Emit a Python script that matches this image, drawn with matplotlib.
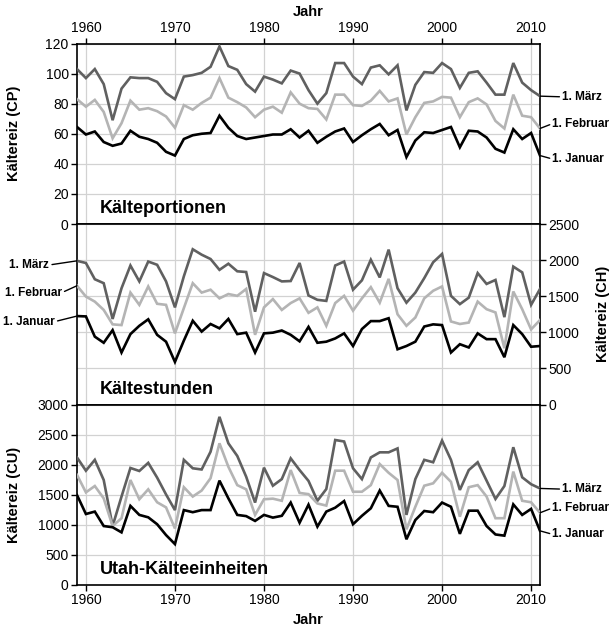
import matplotlib
matplotlib.use('Agg')
import matplotlib.pyplot as plt

plt.rcParams['font.family'] = ['Liberation Sans', 'DejaVu Sans']

years = list(range(1959, 2012))

# Kaelteportionen (CP)
cp_maerz = [103, 97, 103, 93, 69, 90, 97.5, 97, 97, 94.5,
            87, 83, 98, 99, 100.5, 104.5, 118, 105, 102.5, 93,
            88, 98, 96, 93.5, 102, 100, 89, 80, 87, 107,
            107, 98, 93, 104, 105.5, 99.5, 105.5, 75.5, 92.5, 101,
            100.5, 107, 103, 90.5, 100.5, 101.5, 94, 86, 86, 107,
            94, 89, 85]
cp_feb = [83, 78, 82.5, 74.5, 57, 67, 82, 76, 77, 75,
          71.5, 64, 79, 76, 80.5, 84, 97, 84, 81, 77.5,
          71, 76, 78, 74, 87.5, 80, 77, 76.5, 69.5, 86,
          86, 79, 78.5, 82, 88.5, 81.5, 83.5, 59.5, 71, 80.5,
          81.5, 84.5, 84, 71, 81, 83.5, 79.5, 68.5, 63.5, 86,
          72, 71, 63.5]
cp_jan = [64.5, 59.5, 61.5, 54.5, 52, 53.5, 62, 58, 56.5, 54,
          48, 45.5, 56.5, 59, 60, 60.5, 72, 64, 58.5, 56.5,
          57.5, 58.5, 59.5, 59.5, 63, 57.5, 62, 54, 58, 61.5,
          63.5, 54.5, 59, 63, 66.5, 59, 62.5, 44.5, 55.5, 61,
          60.5, 62.5, 64.5, 51, 62, 61.5, 57.5, 50, 47.5, 63,
          56.5, 60.5, 45.5]

# Kaeltestunden (CH)
ch_maerz = [1990, 1960, 1735, 1680, 1185, 1610, 1925, 1705, 1980, 1935,
            1705, 1345, 1775, 2150, 2075, 2015, 1865, 1950, 1845, 1835,
            1285, 1820, 1765, 1705, 1710, 1960, 1510, 1450, 1435, 1925,
            1980, 1590, 1720, 2005, 1760, 2145, 1610, 1410, 1550, 1750,
            1970, 2085, 1505, 1390, 1480, 1820, 1670, 1725, 1210, 1910,
            1830, 1380, 1600]
ch_feb = [1645, 1495, 1425, 1310, 1110, 1100, 1550, 1380, 1635, 1395,
          1380, 985, 1335, 1680, 1550, 1590, 1470, 1530, 1505, 1600,
          965, 1345, 1460, 1310, 1405, 1470, 1270, 1345, 1090, 1405,
          1505, 1300, 1470, 1625, 1410, 1740, 1250, 1090, 1205, 1470,
          1575, 1635, 1150, 1115, 1135, 1425, 1320, 1275, 780, 1565,
          1320, 1040, 1170]
ch_jan = [1225, 1220, 940, 855, 1030, 720, 975, 1090, 1180, 965,
          870, 590, 885, 1160, 1010, 1115, 1055, 1185, 975, 995,
          720, 985, 995, 1025, 965, 875, 1075, 855, 870, 915,
          985, 810, 1045, 1155, 1155, 1195, 765, 810, 870, 1080,
          1110, 1100, 720, 835, 790, 985, 905, 905, 655, 1100,
          975, 800, 810]

# Utah-Kaelteeinheiten (CU)
cu_maerz = [2120, 1900, 2080, 1745, 980, 1470, 1945, 1895, 2030, 1785,
            1505, 1245, 2080, 1940, 1920, 2215, 2795, 2355, 2145, 1800,
            1370, 1950, 1650, 1760, 2105, 1910, 1730, 1400, 1595, 2410,
            2385, 1940, 1760, 2120, 2205, 2205, 2270, 1165, 1760, 2080,
            2040, 2400, 2080, 1580, 1910, 2040, 1735, 1430, 1645, 2290,
            1790, 1675, 1605]
cu_feb = [1830, 1540, 1645, 1440, 980, 1110, 1745, 1425, 1590, 1375,
          1290, 940, 1625, 1470, 1570, 1775, 2355, 1965, 1660, 1590,
          1165, 1425, 1435, 1400, 1910, 1530, 1510, 1355, 1320, 1900,
          1900, 1550, 1550, 1660, 2010, 1865, 1745, 925, 1300, 1650,
          1690, 1865, 1715, 1135, 1625, 1660, 1470, 1110, 1110, 1885,
          1400, 1375, 1200]
cu_jan = [1495, 1180, 1220, 980, 960, 875, 1315, 1165, 1125, 1010,
          830, 680, 1245, 1210, 1245, 1245, 1735, 1440, 1165, 1145,
          1065, 1165, 1120, 1150, 1370, 1035, 1335, 970, 1220, 1285,
          1395, 1010, 1150, 1275, 1570, 1315, 1300, 760, 1080, 1230,
          1210, 1370, 1300, 850, 1235, 1235, 980, 840, 820, 1340,
          1165, 1265, 900]

labels = ['1. März', '1. Februar', '1. Januar']
colors = ['#606060', '#b4b4b4', '#000000']
xticks = [1960, 1970, 1980, 1990, 2000, 2010]

fig = plt.figure(figsize=(6.09, 6.37), dpi=100)
L, W, H, B0 = 77 / 609, 463 / 609, 180.5 / 637, 52 / 637
ax_top = fig.add_axes([L, B0 + 2 * H, W, H])
ax_mid = fig.add_axes([L, B0 + H, W, H])
ax_bot = fig.add_axes([L, B0, W, H])

panels = [
    (ax_top, [cp_maerz, cp_feb, cp_jan], 120, 20, 'Kälteportionen', 'Kältereiz (CP)'),
    (ax_mid, [ch_maerz, ch_feb, ch_jan], 2500, 500, 'Kältestunden', 'Kältereiz (CH)'),
    (ax_bot, [cu_maerz, cu_feb, cu_jan], 3000, 500, 'Utah-Kälteeinheiten', 'Kältereiz (CU)'),
]

for ax, series, ymax, step, title, ylab in panels:
    for vals, c in zip(series, colors):
        ax.plot(years, vals, color=c, lw=1.9, solid_joinstyle='miter', zorder=3)
    ax.set_xlim(1959, 2011)
    ax.set_ylim(0, ymax)
    ax.set_xticks(xticks)
    ax.set_yticks(range(0, ymax + 1, step))
    ax.grid(True, color='#d2d2d2', lw=0.9)
    ax.set_axisbelow(True)
    for s in ax.spines.values():
        s.set_linewidth(1.2)
        s.set_color('black')
    ax.tick_params(labelsize=10, direction='out', length=4, width=1, pad=2)
    ax.text(0.05, 0.085, title, transform=ax.transAxes, fontsize=13,
            fontweight='bold', va='center', ha='left')
    ax.set_ylabel(ylab, fontsize=10.5, fontweight='bold')

# top panel: year axis on top
ax_top.xaxis.tick_top()
ax_top.xaxis.set_label_position('top')
ax_top.set_xlabel('Jahr', fontsize=10.5, fontweight='bold', labelpad=4)
ax_top.yaxis.set_label_coords(-0.12, 0.5)

# middle panel: y axis on right, no x ticks
ax_mid.tick_params(axis='x', length=0, labelbottom=False)
ax_mid.yaxis.tick_right()
ax_mid.yaxis.set_label_position('right')
ax_mid.yaxis.set_label_coords(1.12, 0.5)

ax_bot.set_xlabel('Jahr', fontsize=10.5, fontweight='bold', labelpad=4)
ax_bot.yaxis.set_label_coords(-0.12, 0.5)

# series labels with short leader lines
arrow = dict(arrowstyle='-', color='black', lw=1, shrinkA=0, shrinkB=0, relpos=(0, 0.5))
arrow_l = dict(arrowstyle='-', color='black', lw=1, shrinkA=0, shrinkB=0, relpos=(1, 0.5))

right_offsets = [(16, -0.5), (9, 3.5), (9, -2.5)]
for ax, series in [(ax_top, [cp_maerz, cp_feb, cp_jan]), (ax_bot, [cu_maerz, cu_feb, cu_jan])]:
    for lab, vals, off in zip(labels, series, right_offsets):
        ax.annotate(lab, xy=(years[-1], vals[-1]), xytext=off, textcoords='offset points',
                    fontsize=8.5, fontweight='bold', ha='left', va='center',
                    arrowprops=arrow, annotation_clip=False)

left_offsets = [(-20, -3), (-11, -5), (-16, -4)]
for lab, vals, off in zip(labels, [ch_maerz, ch_feb, ch_jan], left_offsets):
    ax_mid.annotate(lab, xy=(years[0], vals[0]), xytext=off, textcoords='offset points',
                    fontsize=8.5, fontweight='bold', ha='right', va='center',
                    arrowprops=arrow_l, annotation_clip=False)

plt.savefig('out.png', dpi=100)
